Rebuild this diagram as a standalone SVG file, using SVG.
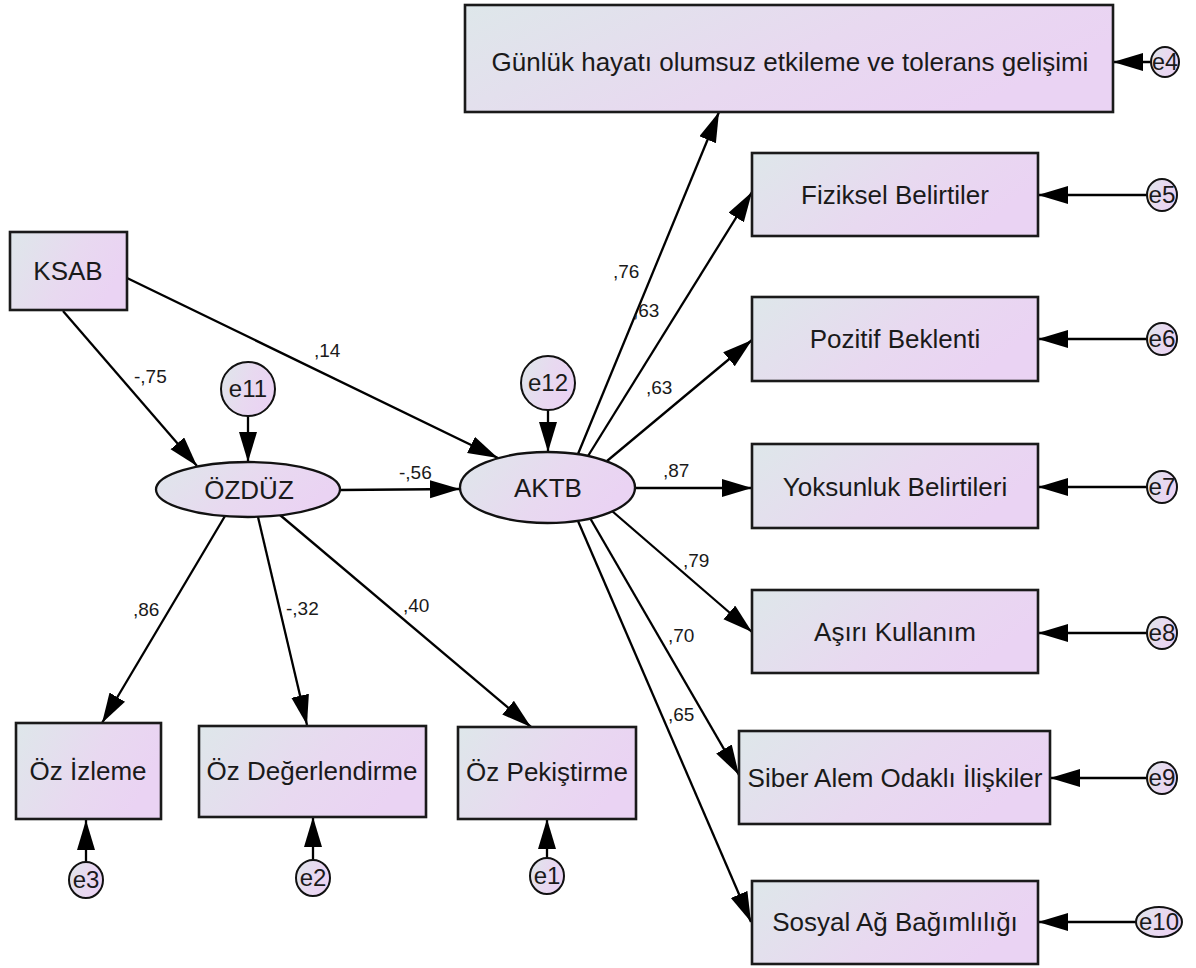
<svg xmlns="http://www.w3.org/2000/svg" width="1196" height="968" viewBox="0 0 1196 968">
<defs>
<linearGradient id="g" x1="0" y1="0" x2="1" y2="0.35">
<stop offset="0" stop-color="#dee7ea"/>
<stop offset="0.6" stop-color="#e8d9f0"/>
<stop offset="1" stop-color="#ead3f3"/>
</linearGradient>
<marker id="ah" markerUnits="userSpaceOnUse" markerWidth="32" markerHeight="20" refX="30" refY="9" orient="auto">
<path d="M0,0 L30,9 L0,18 z" fill="#000"/>
</marker>
<style>
.box{fill:url(#g);stroke:#1a1a1a;stroke-width:2.6}
.lat{fill:url(#g);stroke:#111;stroke-width:2.3}
.err{fill:url(#g);stroke:#111;stroke-width:2}
.t{font-family:"Liberation Sans",Arial,sans-serif;font-size:26px;fill:#1a1a1a;text-anchor:middle}
.et{font-family:"Liberation Sans",Arial,sans-serif;font-size:24px;fill:#1a1a1a;text-anchor:middle}
.lb{font-family:"Liberation Sans",Arial,sans-serif;font-size:19px;fill:#1a1a1a}
.c line{stroke:#000;stroke-width:2.3;marker-end:url(#ah)}
</style>
</defs>
<rect width="1196" height="968" fill="#fff"/>

<g id="connectors" class="c">
<line x1="63" y1="311" x2="197" y2="466"/>
<line x1="127" y1="278" x2="498" y2="458"/>
<line x1="248" y1="416" x2="248" y2="462"/>
<line x1="548" y1="410" x2="548" y2="452"/>
<line x1="340" y1="490" x2="460" y2="489"/>
<line x1="225" y1="516" x2="102" y2="723"/>
<line x1="258" y1="517" x2="307" y2="725"/>
<line x1="280" y1="515" x2="531" y2="727"/>
<line x1="86" y1="862" x2="86" y2="820"/>
<line x1="313" y1="860" x2="313" y2="817"/>
<line x1="547" y1="858" x2="547" y2="819"/>
<line x1="578" y1="454" x2="719" y2="112"/>
<line x1="588" y1="456" x2="752" y2="192"/>
<line x1="607" y1="461" x2="752" y2="340"/>
<line x1="635" y1="488" x2="752" y2="488"/>
<line x1="612" y1="511" x2="752" y2="632"/>
<line x1="590" y1="518" x2="739" y2="775"/>
<line x1="578" y1="521" x2="751" y2="922"/>
<line x1="1151" y1="62" x2="1113" y2="62"/>
<line x1="1147" y1="195" x2="1038" y2="195"/>
<line x1="1147" y1="339" x2="1038" y2="339"/>
<line x1="1147" y1="487" x2="1038" y2="487"/>
<line x1="1147" y1="633" x2="1038" y2="633"/>
<line x1="1147" y1="778" x2="1050" y2="778"/>
<line x1="1136" y1="922" x2="1038" y2="922"/>
</g>

<g id="labels">
<text class="lb" x="134" y="383">-,75</text>
<text class="lb" x="314" y="357">,14</text>
<text class="lb" x="399" y="479">-,56</text>
<text class="lb" x="133" y="616">,86</text>
<text class="lb" x="286" y="615">-,32</text>
<text class="lb" x="403" y="612">,40</text>
<text class="lb" x="613" y="278">,76</text>
<text class="lb" x="633" y="317">,63</text>
<text class="lb" x="646" y="394">,63</text>
<text class="lb" x="663" y="477">,87</text>
<text class="lb" x="683" y="567">,79</text>
<text class="lb" x="668" y="642">,70</text>
<text class="lb" x="668" y="721">,65</text>
</g>

<g id="KSAB"><rect class="box" x="10" y="232" width="117" height="78"/><text class="t" x="68" y="280">KSAB</text></g>
<g id="OZDUZ"><ellipse class="lat" cx="248" cy="489.5" rx="92" ry="27.5"/><text class="t" x="249" y="499">ÖZDÜZ</text></g>
<g id="AKTB"><ellipse class="lat" cx="547.5" cy="487.5" rx="87.5" ry="35.5"/><text class="t" x="548" y="497">AKTB</text></g>
<g id="e11"><circle class="err" cx="248" cy="389" r="27"/><text class="et" x="248" y="397">e11</text></g>
<g id="e12"><circle class="err" cx="548" cy="383" r="27"/><text class="et" x="548" y="391">e12</text></g>

<g id="OzIzleme"><rect class="box" x="16" y="723" width="145" height="96"/><text class="t" x="88" y="780">Öz İzleme</text></g>
<g id="OzDegerlendirme"><rect class="box" x="199" y="726" width="227" height="91"/><text class="t" x="312" y="780">Öz Değerlendirme</text></g>
<g id="OzPekistirme"><rect class="box" x="458" y="727" width="178" height="92"/><text class="t" x="547" y="781">Öz Pekiştirme</text></g>
<g id="e3"><ellipse class="err" cx="86" cy="880" rx="17" ry="18"/><text class="et" x="86" y="888">e3</text></g>
<g id="e2"><ellipse class="err" cx="313" cy="878" rx="17" ry="18"/><text class="et" x="313" y="886">e2</text></g>
<g id="e1"><ellipse class="err" cx="547" cy="876" rx="17" ry="18"/><text class="et" x="547" y="884">e1</text></g>

<g id="Gunluk"><rect class="box" x="465" y="5" width="648" height="107"/><text class="t" x="790" y="71">Günlük hayatı olumsuz etkileme ve tolerans gelişimi</text></g>
<g id="Fiziksel"><rect class="box" x="752" y="153" width="286" height="83"/><text class="t" x="895" y="204">Fiziksel Belirtiler</text></g>
<g id="Pozitif"><rect class="box" x="752" y="297" width="286" height="84"/><text class="t" x="895" y="348">Pozitif Beklenti</text></g>
<g id="Yoksunluk"><rect class="box" x="752" y="444" width="286" height="84"/><text class="t" x="895" y="496">Yoksunluk Belirtileri</text></g>
<g id="Asiri"><rect class="box" x="752" y="590" width="286" height="83"/><text class="t" x="895" y="641">Aşırı Kullanım</text></g>
<g id="Siber"><rect class="box" x="739" y="731" width="311" height="93"/><text class="t" x="895" y="787">Siber Alem Odaklı İlişkiler</text></g>
<g id="Sosyal"><rect class="box" x="752" y="881" width="286" height="83"/><text class="t" x="895" y="931">Sosyal Ağ Bağımlılığı</text></g>

<g id="e4"><ellipse class="err" cx="1165" cy="62" rx="14" ry="15"/><text class="et" x="1165" y="70" textLength="26" lengthAdjust="spacingAndGlyphs">e4</text></g>
<g id="e5"><ellipse class="err" cx="1162" cy="195" rx="15" ry="16"/><text class="et" x="1162" y="203" textLength="27" lengthAdjust="spacingAndGlyphs">e5</text></g>
<g id="e6"><ellipse class="err" cx="1162" cy="339" rx="15" ry="16"/><text class="et" x="1162" y="347" textLength="27" lengthAdjust="spacingAndGlyphs">e6</text></g>
<g id="e7"><ellipse class="err" cx="1162" cy="487" rx="15" ry="16"/><text class="et" x="1162" y="495" textLength="27" lengthAdjust="spacingAndGlyphs">e7</text></g>
<g id="e8"><ellipse class="err" cx="1162" cy="633" rx="15" ry="16"/><text class="et" x="1162" y="641" textLength="27" lengthAdjust="spacingAndGlyphs">e8</text></g>
<g id="e9"><ellipse class="err" cx="1162" cy="778" rx="15" ry="16"/><text class="et" x="1162" y="786" textLength="27" lengthAdjust="spacingAndGlyphs">e9</text></g>
<g id="e10"><ellipse class="err" cx="1159" cy="922" rx="23" ry="15"/><text class="et" x="1159" y="930" textLength="40" lengthAdjust="spacingAndGlyphs">e10</text></g>
</svg>
